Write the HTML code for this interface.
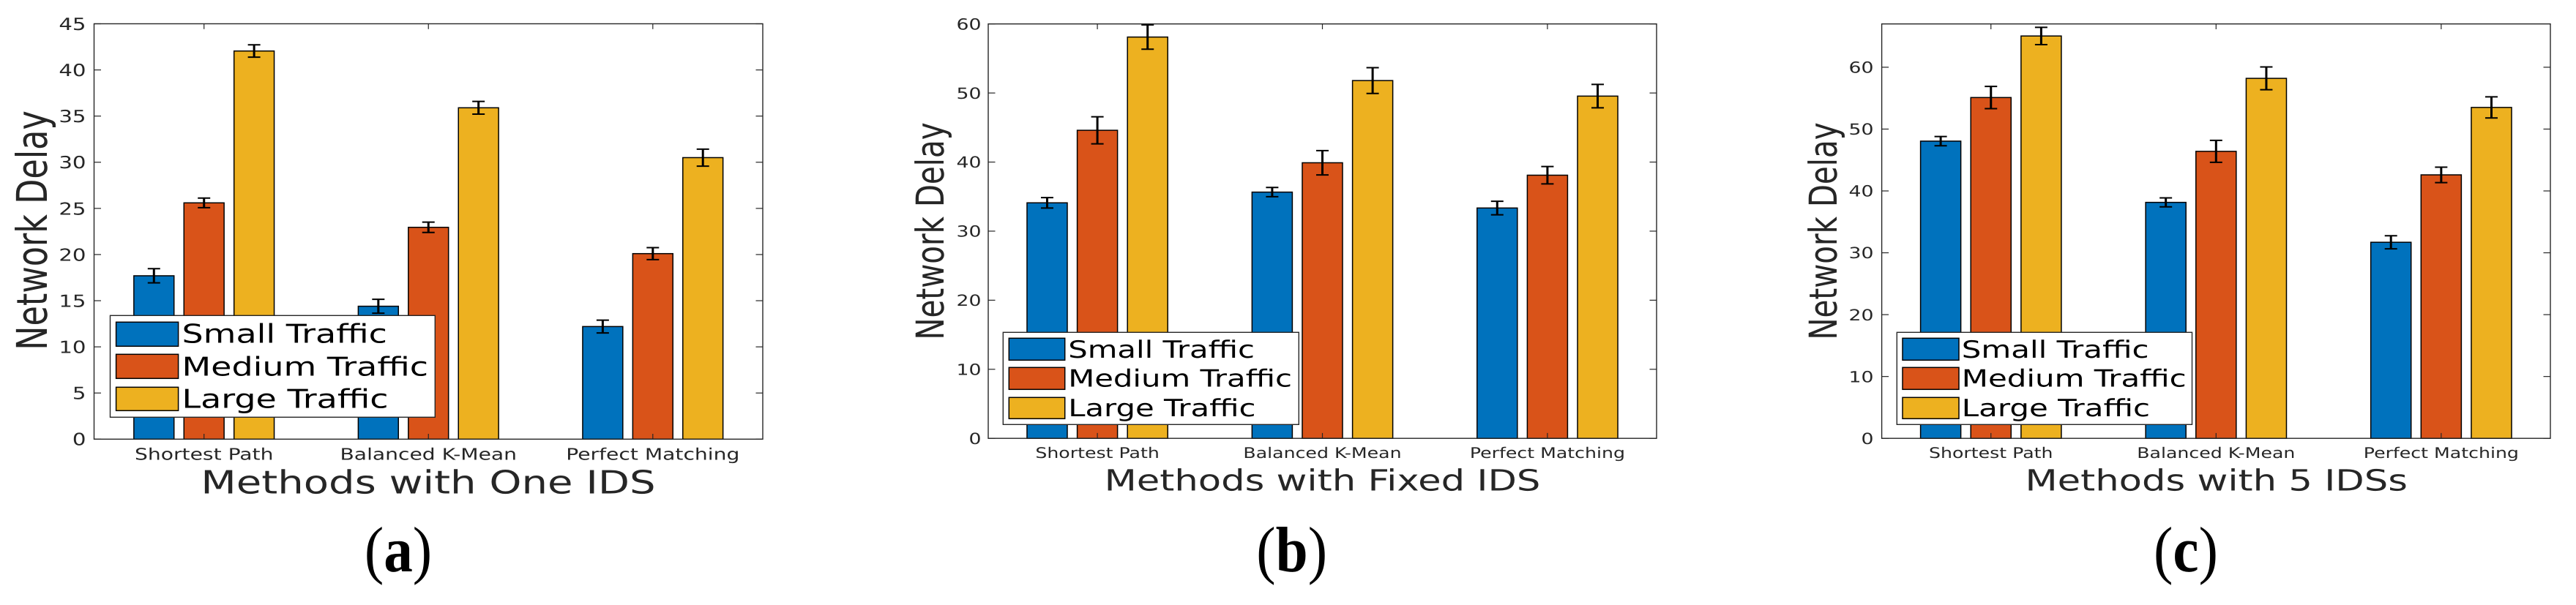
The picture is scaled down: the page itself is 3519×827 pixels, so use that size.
<!DOCTYPE html>
<html lang="en">
<head>
<meta charset="utf-8">
<title>Network Delay by Method</title>
<style>
html,body{margin:0;padding:0;background:#fff;width:3519px;height:827px;overflow:hidden}
svg{display:block}
text{font-family:"DejaVu Sans","Liberation Sans",sans-serif;text-rendering:geometricPrecision}
text.caption{font-family:"Liberation Serif",serif}
</style>
</head>
<body>
<svg id="figure" xmlns="http://www.w3.org/2000/svg" width="3519" height="827" viewBox="0 0 3519 827"></svg>
<script>
const categories = ['Shortest Path', 'Balanced K-Mean', 'Perfect Matching'];
const seriesNames = ['Small Traffic', 'Medium Traffic', 'Large Traffic'];
const seriesKeys = ['small', 'medium', 'large'];
const seriesColors = ['#0072BD', '#D95319', '#EDB120'];

const panelASmall = [17.7, 14.4, 12.2];
const panelAMedium = [25.6, 22.95, 20.1];
const panelALarge = [42.05, 35.9, 30.5];
const panelASmallErr = [0.77, 0.75, 0.69];
const panelAMediumErr = [0.52, 0.56, 0.65];
const panelALargeErr = [0.67, 0.69, 0.92];
const panelAYTicks = [0, 5, 10, 15, 20, 25, 30, 35, 40, 45];

const panelBSmall = [34.1, 35.65, 33.35];
const panelBMedium = [44.6, 39.9, 38.1];
const panelBLarge = [58.1, 51.8, 49.55];
const panelBSmallErr = [0.75, 0.67, 0.98];
const panelBMediumErr = [1.96, 1.76, 1.26];
const panelBLargeErr = [1.76, 1.87, 1.7];
const panelBYTicks = [0, 10, 20, 30, 40, 50, 60];

const panelCSmall = [48.05, 38.15, 31.7];
const panelCMedium = [55.1, 46.4, 42.6];
const panelCLarge = [65.05, 58.2, 53.5];
const panelCSmallErr = [0.75, 0.72, 1.06];
const panelCMediumErr = [1.8, 1.78, 1.25];
const panelCLargeErr = [1.4, 1.84, 1.71];
const panelCYTicks = [0, 10, 20, 30, 40, 50, 60];

const INK = '#262626';
const NS = 'http://www.w3.org/2000/svg';
const root = document.getElementById('figure');

function svgEl(parent, tag, attrs) {
  const el = document.createElementNS(NS, tag);
  for (const k in attrs) el.setAttribute(k, attrs[k]);
  parent.appendChild(el);
  return el;
}

function stretchedText(parent, str, x, y, size, sx, anchor, fill) {
  const el = svgEl(parent, 'text', {
    transform: 'translate(' + x + ' ' + y + ') scale(' + sx + ' 1)',
    'font-size': size,
    'text-anchor': anchor,
    fill: fill
  });
  el.textContent = str;
  return el;
}

function drawPanel(p) {
  const panel = svgEl(root, 'g', {});
  
  

  const xScale = function (v) { return p.left + (v - p.xMin) / (p.xMax - p.xMin) * (p.right - p.left); };
  const yScale = function (v) { return p.bottom - v / p.yMax * (p.bottom - p.top); };

  const bg = svgEl(panel, 'rect', { x: p.left, y: p.top, width: p.right - p.left, height: p.bottom - p.top, fill: '#fff' });
  
  

  const groupWidth = 0.2232;
  const barWidth = 0.179;

  p.series.forEach(function (values, s) {
    values.forEach(function (v, c) {
      const cx = xScale(c + 1 + (s - 1) * groupWidth);
      const half = (xScale(barWidth) - xScale(0)) / 2;
      const bar = svgEl(panel, 'rect', {
        x: cx - half, y: yScale(v), width: half * 2, height: p.bottom - yScale(v),
        fill: seriesColors[s], stroke: '#000', 'stroke-width': 1.5
      });
      
      
    });
  });

  p.errors.forEach(function (errs, s) {
    errs.forEach(function (e, c) {
      const cx = xScale(c + 1 + (s - 1) * groupWidth);
      const hi = yScale(p.series[s][c] + e);
      const lo = yScale(p.series[s][c] - e);
      const eg = svgEl(panel, 'g', { stroke: '#000', fill: 'none' });
      
      
      svgEl(eg, 'line', { x1: cx, x2: cx, y1: hi, y2: lo, 'stroke-width': 3 });
      svgEl(eg, 'line', { x1: cx - 8.5, x2: cx + 8.5, y1: hi, y2: hi, 'stroke-width': 2 });
      svgEl(eg, 'line', { x1: cx - 8.5, x2: cx + 8.5, y1: lo, y2: lo, 'stroke-width': 2 });
    });
  });

  const frame = svgEl(panel, 'rect', {
    x: p.left, y: p.top, width: p.right - p.left, height: p.bottom - p.top,
    fill: 'none', stroke: INK, 'stroke-width': 1.4
  });
  
  

  const yAxis = svgEl(panel, 'g', {});
  
  
  p.yTicks.forEach(function (t) {
    const y = yScale(t);
    svgEl(yAxis, 'line', { x1: p.left, x2: p.left + 9.5, y1: y, y2: y, stroke: INK, 'stroke-width': 1.2 });
    svgEl(yAxis, 'line', { x1: p.right, x2: p.right - 9.5, y1: y, y2: y, stroke: INK, 'stroke-width': 1.2 });
    const label = stretchedText(yAxis, String(t), p.yTickX, y + p.yTickSize * 0.365, p.yTickSize, 1.27, 'end', INK);
    
    
  });

  const xAxis = svgEl(panel, 'g', {});
  
  
  categories.forEach(function (name, c) {
    const x = xScale(c + 1);
    svgEl(xAxis, 'line', { x1: x, x2: x, y1: p.bottom, y2: p.bottom - 7.3, stroke: INK, 'stroke-width': 1.2 });
    svgEl(xAxis, 'line', { x1: x, x2: x, y1: p.top, y2: p.top + 7.3, stroke: INK, 'stroke-width': 1.2 });
    const label = stretchedText(xAxis, name, x, p.xTickY, p.xTickSize, p.xTickSx, 'middle', INK);
    
    
  });

  const xTitle = stretchedText(panel, p.xTitle, p.xTitleX, p.xTitleY, p.xTitleSize, 1.28, 'middle', INK);
  
  

  const yTitle = svgEl(panel, 'text', {
    transform: 'translate(' + p.yTitleX + ' ' + p.yTitleY + ') rotate(-90) scale(1 1.3)',
    'font-size': p.yTitleSize, 'text-anchor': 'middle', fill: INK
  });
  yTitle.textContent = 'Network Delay';
  
  

  const legend = svgEl(panel, 'g', {});
  
  
  const L = p.legend;
  svgEl(legend, 'rect', { x: L.x, y: L.y, width: L.w, height: L.h, fill: '#fff', stroke: INK, 'stroke-width': 1.4 });
  seriesNames.forEach(function (name, s) {
    const entry = svgEl(legend, 'g', {});
    
    
    svgEl(entry, 'rect', {
      x: L.swatchX, y: L.swatchY[s], width: L.swatchW, height: L.swatchH[s],
      fill: seriesColors[s], stroke: '#000', 'stroke-width': 1.5
    });
    stretchedText(entry, name, L.textX, L.baseY[s], L.size, L.sx, 'start', '#000');
  });

  const cap = svgEl(panel, 'text', {
    class: 'caption',
    transform: 'translate(' + p.captionX + ' 781) scale(0.9 1)',
    'font-size': 88, 'text-anchor': 'middle', fill: '#000'
  });
  
  
  const open = svgEl(cap, 'tspan', {});
  open.textContent = '(';
  const letter = svgEl(cap, 'tspan', { 'font-weight': 'bold' });
  letter.textContent = p.id;
  const close = svgEl(cap, 'tspan', {});
  close.textContent = ')';
}

drawPanel({
  id: 'a', left: 128.5, right: 1042, top: 32.5, bottom: 600.3, xMin: 0.51, xMax: 3.49, yMax: 45,
  series: [panelASmall, panelAMedium, panelALarge],
  errors: [panelASmallErr, panelAMediumErr, panelALargeErr],
  yTicks: panelAYTicks, yTickX: 117.5, yTickSize: 23,
  xTickY: 628.7, xTickSize: 22, xTickSx: 1.28,
  xTitle: 'Methods with One IDS', xTitleX: 585, xTitleY: 674.5, xTitleSize: 43.8,
  yTitleX: 64, yTitleY: 315, yTitleSize: 44.5,
  captionX: 544,
  legend: { x: 150.5, y: 431.3, w: 443.8, h: 139,
    swatchX: 158.6, swatchW: 85, swatchY: [440.3, 484.3, 529.3], swatchH: [33, 33, 32],
    textX: 248.5, baseY: [468.3, 513.3, 557.3], size: 35.5, sx: 1.295 }
});

drawPanel({
  id: 'b', left: 1350, right: 2263, top: 32.7, bottom: 599.2, xMin: 0.515, xMax: 3.485, yMax: 60,
  series: [panelBSmall, panelBMedium, panelBLarge],
  errors: [panelBSmallErr, panelBMediumErr, panelBLargeErr],
  yTicks: panelBYTicks, yTickX: 1340.5, yTickSize: 21,
  xTickY: 626, xTickSize: 20, xTickSx: 1.26,
  xTitle: 'Methods with Fixed IDS', xTitleX: 1806.5, xTitleY: 670.7, xTitleSize: 40,
  yTitleX: 1289, yTitleY: 316, yTitleSize: 40.4,
  captionX: 1764.7,
  legend: { x: 1370.3, y: 454.3, w: 404, h: 126,
    swatchX: 1378.3, swatchW: 76.4, swatchY: [462.3, 502.3, 543.3], swatchH: [30, 30, 29],
    textX: 1459.2, baseY: [489, 528.7, 569], size: 32.5, sx: 1.285 }
});

drawPanel({
  id: 'c', left: 2570.6, right: 3484, top: 32.7, bottom: 599.2, xMin: 0.515, xMax: 3.485, yMax: 67,
  series: [panelCSmall, panelCMedium, panelCLarge],
  errors: [panelCSmallErr, panelCMediumErr, panelCLargeErr],
  yTicks: panelCYTicks, yTickX: 2559.5, yTickSize: 21,
  xTickY: 626, xTickSize: 20, xTickSx: 1.26,
  xTitle: 'Methods with 5 IDSs', xTitleX: 3027.7, xTitleY: 670.7, xTitleSize: 40,
  yTitleX: 2509, yTitleY: 316, yTitleSize: 40.4,
  captionX: 2986,
  legend: { x: 2591.3, y: 454.3, w: 403.2, h: 126,
    swatchX: 2599, swatchW: 77, swatchY: [462.3, 502.3, 543.3], swatchH: [30, 30, 29],
    textX: 2679.8, baseY: [489, 528.7, 569], size: 32.5, sx: 1.29 }
});
</script>
</body>
</html>
